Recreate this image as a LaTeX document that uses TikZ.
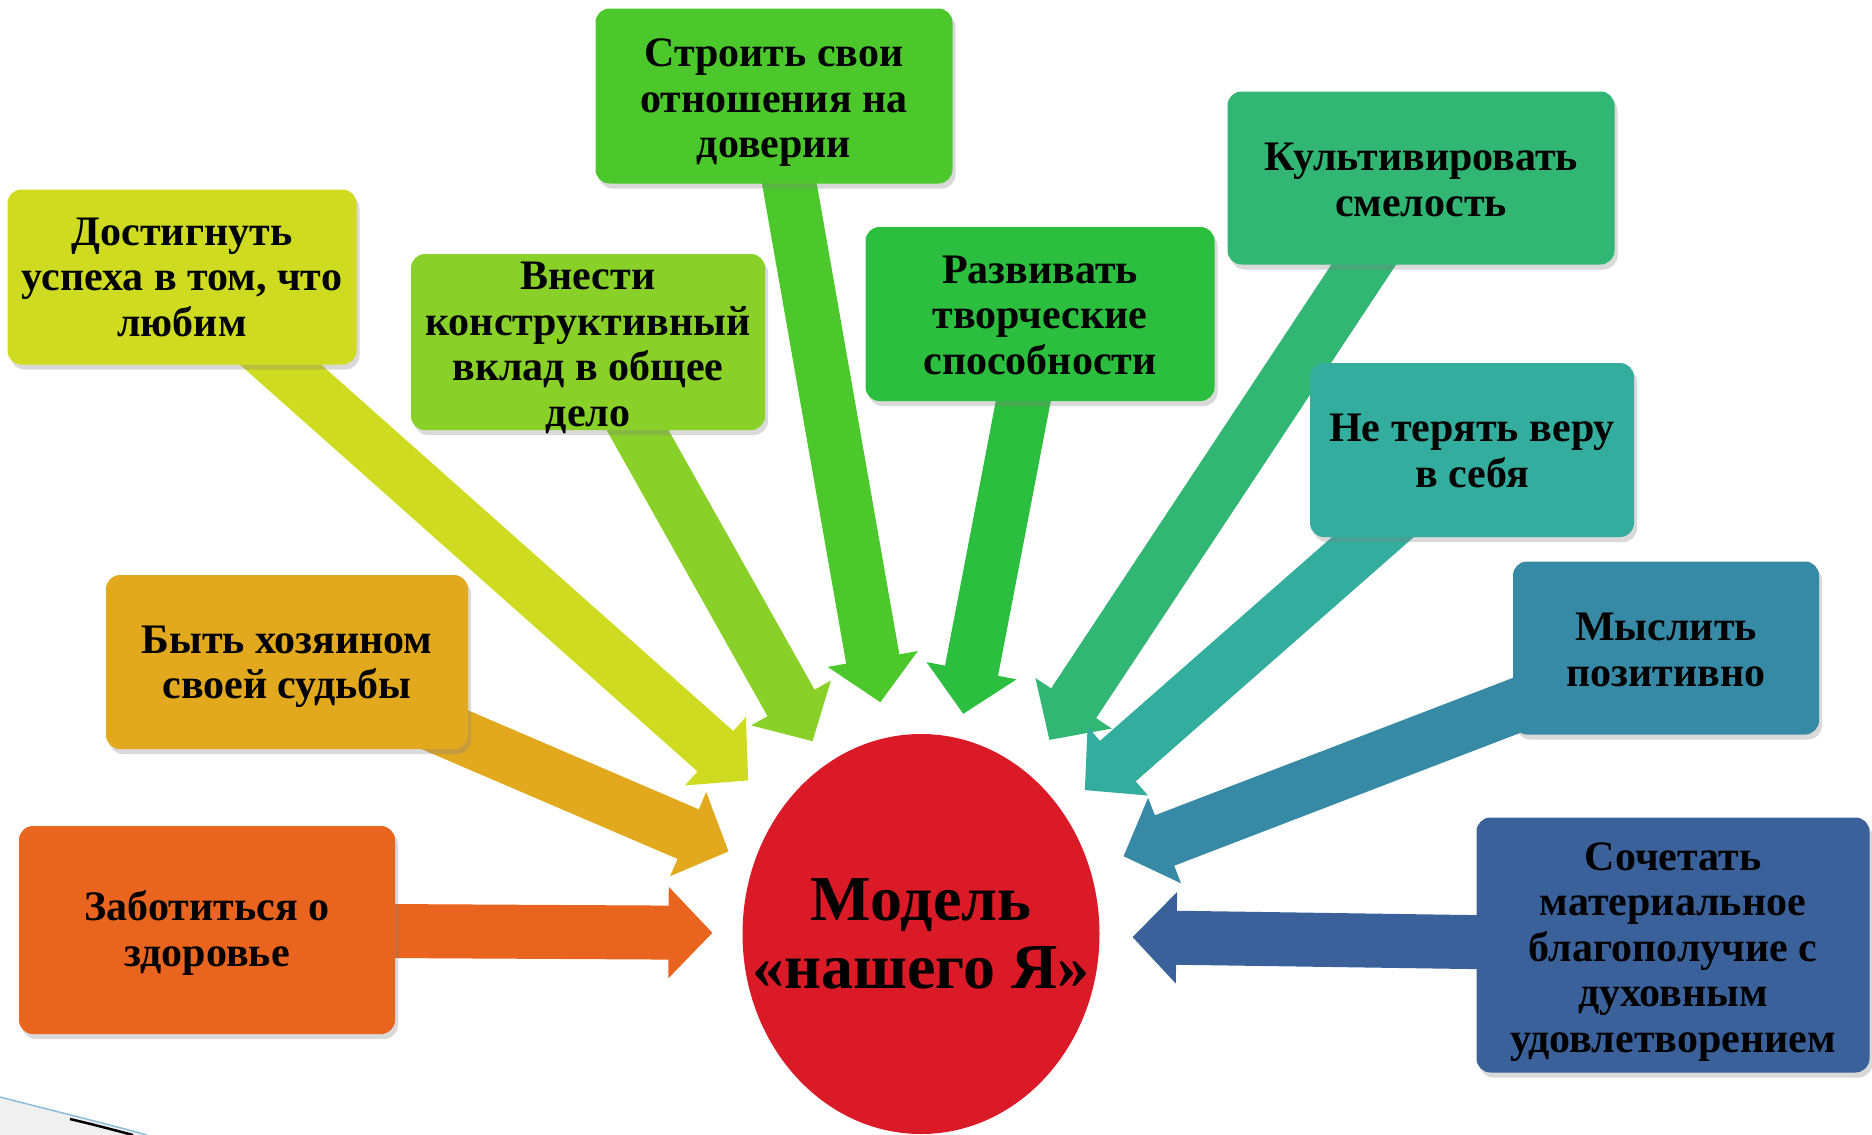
\documentclass[tikz,border=0pt]{standalone}
\usepackage{fontspec}
\setmainfont{Liberation Serif}
\usetikzlibrary{arrows.meta,shapes.geometric,shadows}
\definecolor{zabotaorange}{RGB}{233,100,30}
\definecolor{hozyaingold}{RGB}{226,169,30}
\definecolor{uspehyellow}{RGB}{207,219,32}
\definecolor{vkladlime}{RGB}{137,209,41}
\definecolor{doveriegreen}{RGB}{76,200,44}
\definecolor{tvorgreen}{RGB}{44,190,62}
\definecolor{smelostgreen}{RGB}{49,182,116}
\definecolor{veruteal}{RGB}{51,173,157}
\definecolor{myslblue}{RGB}{54,138,165}
\definecolor{sochblue}{RGB}{58,97,153}
\definecolor{modelred}{RGB}{218,27,39}
\definecolor{swooshblue}{RGB}{140,190,215}
\pgfdeclarelayer{background}
\pgfsetlayers{background,main}

\begin{document}
\begin{tikzpicture}[x=1pt,y=-1pt]

%
% Styles
%
\tikzstyle{goal} = [rectangle,rounded corners=14pt,inner sep=0pt,outer sep=0pt,
  drop shadow={shadow xshift=3pt,shadow yshift=-5pt,opacity=0.3}]
\tikzstyle{goaltext} = [align=center,inner sep=0pt,font=\bfseries\fontsize{42}{45.5}\selectfont]
\tikzstyle{bigarrow} = [line width=54pt,-{Triangle[width=89pt,length=44pt]}]

\useasboundingbox (0,0) rectangle (1872,1135);

% slide corner
\fill[black!6] (0,1097) .. controls (50,1110) and (100,1122) .. (147,1135) -- (0,1135) -- cycle;
\draw[swooshblue,line width=1.5pt] (0,1097) .. controls (50,1110) and (100,1122) .. (147,1135);
\draw[black,line width=2.5pt] (70,1119) .. controls (95,1125) .. (133,1135);

\node[ellipse,fill=modelred,minimum width=357pt,minimum height=400pt,inner sep=0pt,outer sep=0pt] (model) at (921,934) {};
\node[align=center,font=\bfseries\fontsize{64}{68}\selectfont] (modeltext) at (model) {Модель\\«нашего Я»};

\node[goal,fill=doveriegreen,minimum width=357pt,minimum height=175pt] (doverie) at (774,96)   {};
\node[goal,fill=uspehyellow,minimum width=349pt,minimum height=175pt]  (uspeh)   at (182,277)  {};
\node[goal,fill=vkladlime,minimum width=354pt,minimum height=176pt]    (vklad)   at (588,342)  {};
\node[goal,fill=tvorgreen,minimum width=349pt,minimum height=174pt]    (tvor)    at (1040,314) {};
\node[goal,fill=smelostgreen,minimum width=387pt,minimum height=173pt] (smelost) at (1421,178) {};
\node[goal,fill=veruteal,minimum width=324pt,minimum height=174pt]     (veru)    at (1472,450) {};
\node[goal,fill=hozyaingold,minimum width=362pt,minimum height=174pt]  (hozyain) at (287,662)  {};
\node[goal,fill=myslblue,minimum width=306pt,minimum height=173pt]     (mysl)    at (1666,648) {};
\node[goal,fill=zabotaorange,minimum width=376pt,minimum height=208pt] (zdorov)  at (207,930)  {};
\node[goal,fill=sochblue,minimum width=393pt,minimum height=255pt]     (soch)    at (1673,945) {};

\node[goaltext,yshift=-7pt] (doverie-t) at (doverie) {Строить свои\\отношения на\\доверии};
\node[goaltext]             (uspeh-t)   at (uspeh)   {Достигнуть\\успеха в том, что\\любим};
\node[goaltext,yshift=-6pt] (vklad-t)   at (vklad)   {Внести\\конструктивный\\вклад в общее\\дело};
\node[goaltext,yshift=-1pt] (tvor-t)    at (tvor)    {Развивать\\творческие\\способности};
\node[goaltext,yshift=-2pt] (smelost-t) at (smelost) {Культивировать\\смелость};
\node[goaltext,yshift=-1pt] (veru-t)    at (veru)    {Не терять веру\\в себя};
\node[goaltext,yshift=-5pt] (hozyain-t) at (hozyain) {Быть хозяином\\своей судьбы};
\node[goaltext,yshift=-2pt] (mysl-t)    at (mysl)    {Мыслить\\позитивно};
\node[goaltext,yshift=-3pt] (zdorov-t)  at (zdorov)  {Заботиться о\\здоровье};
\node[goaltext,yshift=-7pt] (soch-t)    at (soch)    {Сочетать\\материальное\\благополучие с\\духовным\\удовлетворением};

\begin{pgfonlayer}{background}
\draw[bigarrow,zabotaorange,shorten >=30pt] (zdorov.center) -- (model);
\draw[bigarrow,hozyaingold,shorten >=28pt] (hozyain.center) -- (model);
\draw[bigarrow,uspehyellow,shorten >=44pt] (uspeh.center) -- (model);
\draw[bigarrow,vkladlime,shorten >=27pt] (vklad.center) -- (model);
\draw[bigarrow,doveriegreen,shorten >=36pt] (doverie.center) -- (model);
\draw[bigarrow,tvorgreen,shorten >=25pt] (tvor.center) -- (model);
\draw[bigarrow,smelostgreen,shorten >=40pt] (smelost.center) -- (model);
\draw[bigarrow,veruteal,shorten >=31pt] (veru.center) -- (model);
\draw[bigarrow,myslblue,shorten >=36pt] (mysl.center) -- (model);
\draw[bigarrow,sochblue,shorten >=33pt] (soch.center) -- (model);
\end{pgfonlayer}

\end{tikzpicture}
\end{document}
